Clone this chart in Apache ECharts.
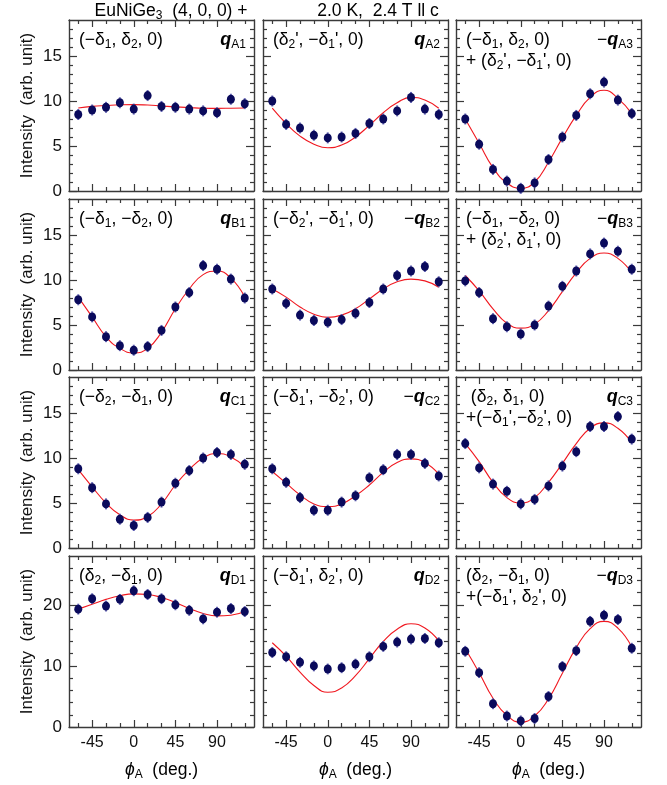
<!DOCTYPE html>
<html><head><meta charset="utf-8">
<script src="https://cdn.jsdelivr.net/npm/echarts@6/dist/echarts.min.js"></script>
<style>html,body{margin:0;padding:0;background:#fff}#c{width:667px;height:785px}</style>
</head><body><div id="c"></div>
<script>
// ---- data ----
const phi = [-60,-45,-30,-15,0,15,30,45,60,75,90,105,120];

const A1 = [8.5,9.0,9.3,9.8,9.1,10.6,9.4,9.3,9.1,8.9,8.7,10.2,9.7];
const A2 = [10.0,7.4,7.0,6.2,5.9,6.0,6.4,7.5,8.0,8.9,10.4,9.1,8.5];
const A3 = [8.0,5.2,2.4,1.1,0.3,0.9,3.5,6.0,8.4,10.8,12.1,10.1,8.6];
const B1 = [7.8,5.9,3.7,2.7,2.2,2.6,4.4,7.0,8.6,11.6,11.2,10.1,8.0];
const B2 = [9.0,7.4,6.1,5.5,5.3,5.6,6.3,7.5,9.0,10.5,11.0,11.5,9.8];
const B3 = [9.9,8.6,5.7,4.8,4.0,5.0,7.1,9.3,11.0,12.9,14.1,13.2,11.2];
const C1 = [8.8,6.7,4.9,3.2,2.5,3.4,5.1,7.2,8.6,10.0,10.6,10.4,9.3];
const C2 = [8.8,7.3,5.6,4.2,4.2,5.1,5.8,7.8,8.7,10.4,10.4,9.4,8.0];
const C3 = [11.6,8.9,7.1,6.3,4.9,5.4,6.9,9.1,10.7,13.5,13.5,14.6,12.1];
const D1 = [19.3,21.0,19.8,20.9,22.3,21.7,21.0,20.0,19.1,17.7,18.8,19.4,18.9];
const D2 = [12.2,11.5,10.6,10.0,9.5,9.7,10.3,11.5,13.2,13.9,14.4,14.5,13.8];
const D3 = [12.4,8.9,3.8,1.8,1.0,1.4,5.0,9.9,12.5,17.3,18.3,17.6,12.9];

const fitA1 = [9.22,9.4,9.5,9.58,9.6,9.55,9.45,9.35,9.27,9.2,9.18,9.2,9.23];
const fitA2 = [9.2,7.5,6.1,5.2,4.8,5.1,6.0,7.3,8.7,9.8,10.4,10.1,9.2];
const fitA3 = [8.0,5.3,2.6,0.9,0.3,1.0,3.2,5.9,8.4,10.4,11.2,10.3,8.6];
const fitB1 = [8.1,5.9,3.7,2.4,1.9,2.4,4.2,6.8,9.0,10.6,11.0,10.2,8.1];
const fitB2 = [9.0,8.1,7.0,6.2,5.85,6.1,6.8,7.9,9.0,9.8,10.1,9.9,9.2];
const fitB3 = [10.5,8.8,6.8,5.2,4.65,5.1,6.6,8.7,10.8,12.4,13.0,12.4,10.8];
const fitC1 = [8.7,6.8,5.0,3.7,3.1,3.5,4.9,7.0,8.7,10.0,10.5,10.1,9.0];
const fitC2 = [8.5,7.2,5.9,4.9,4.6,4.9,5.8,7.0,8.4,9.5,9.9,9.5,8.2];
const fitC3 = [11.6,9.6,7.3,5.6,5.0,5.6,7.3,9.4,11.6,13.3,13.9,13.3,11.7];
const fitD1 = [19.3,20.1,20.9,21.5,21.8,21.7,21.2,20.4,19.4,18.6,18.2,18.3,18.9];
const fitD2 = [13.8,11.6,9.0,6.8,5.7,6.4,8.4,11.2,14.0,16.0,16.9,16.2,14.1];
const fitD3 = [12.8,8.9,4.7,1.9,0.8,1.8,4.6,8.8,13.0,16.1,17.3,16.2,13.1];

const errRow = [0.55,0.55,0.55,0.8];

const xMajorTicks = [-45,0,45,90];
const xMinorTicks = [-60,-30,-15,15,30,60,75,105,120];
const xTickLabels = [-45,0,45,90];
const yMajorTicksA = [0,5,10,15];
const yMinorTicksA = [1,2,3,4,6,7,8,9,11,12,13,14,16,17,18];
const yMajorTicksD = [0,10,20];
const yMinorTicksD = [2,4,6,8,12,14,16,18,22,24,26];
const yMaxRow = [19,19,19,28];

const leftLabels = [
  ['(−δ_1, δ_2, 0)'], ["(δ_2', −δ_1', 0)"], ['(−δ_1, δ_2, 0)', "+ (δ_2', −δ_1', 0)"],
  ['(−δ_1, −δ_2, 0)'], ["(−δ_2', −δ_1', 0)"], ['(−δ_1, −δ_2, 0)', "+ (δ_2', δ_1', 0)"],
  ['(−δ_2, −δ_1, 0)'], ["(−δ_1', −δ_2', 0)"], [' (δ_2, δ_1, 0)', "+(−δ_1',−δ_2', 0)"],
  ['(δ_2, −δ_1, 0)'], ["(−δ_1', δ_2', 0)"], ['(δ_2, −δ_1, 0)', "+(−δ_1', δ_2', 0)"]
];
const qSigns = ['', '', '−', '', '−', '−', '', '−', '', '', '', '−'];
const qSubs = ['A1','A2','A3','B1','B2','B3','C1','C2','C3','D1','D2','D3'];
const titleLeft = 'EuNiGe_3  (4, 0, 0) +';
const titleRight = '2.0 K,  2.4 T ll c';
const yTitle = 'Intensity  (arb. unit)';
const xTitleUnit = '  (deg.)';

const pts = [A1,A2,A3,B1,B2,B3,C1,C2,C3,D1,D2,D3];
const fits = [fitA1,fitA2,fitA3,fitB1,fitB2,fitB3,fitC1,fitC2,fitC3,fitD1,fitD2,fitD3];

// ---- layout ----
const FONT = '"Liberation Sans", Arial, Helvetica, sans-serif';
const colLeft = [69, 263, 456], rowTop = [20, 199, 377, 556], W = 185, H = 171;
const AX = '#3a3a3a';

const RICH = {
  n: {fontSize: 17.5, fontFamily: FONT, lineHeight: 22, color: '#111'},
  s: {fontSize: 12, fontFamily: FONT, lineHeight: 10, verticalAlign: 'bottom', color: '#111'},
  q: {fontSize: 18, fontFamily: FONT, fontWeight: 'bold', fontStyle: 'italic', lineHeight: 22, color: '#111'},
  i: {fontSize: 17.5, fontFamily: FONT, fontStyle: 'italic', lineHeight: 22, color: '#111'}
};
function richStr(str, base) {
  base = base || 'n';
  let out = '', last = 0, m;
  const re = /_\{([^}]*)\}|_(.)/g;
  while ((m = re.exec(str))) {
    if (m.index > last) out += '{' + base + '|' + str.slice(last, m.index) + '}';
    out += '{s|' + (m[1] || m[2]) + '}';
    last = re.lastIndex;
  }
  if (last < str.length) out += '{' + base + '|' + str.slice(last) + '}';
  return out;
}

const grids = [], xAxes = [], yAxes = [], series = [], graphics = [];

function xAxis(gi, pos, ticks, len, labels, line) {
  return {
    type: 'value', gridIndex: gi, position: pos, min: -70, max: 130,
    axisLine: {show: line, onZero: false, lineStyle: {color: AX, width: 1.4}},
    axisTick: {show: true, inside: true, length: len, customValues: ticks, lineStyle: {color: AX, width: 1.2}},
    axisLabel: {show: labels, customValues: xTickLabels, margin: 8, fontSize: 16, fontFamily: FONT, color: '#111'},
    splitLine: {show: false}
  };
}
function yAxis(gi, pos, max, ticks, labelVals, len, labels, line) {
  return {
    type: 'value', gridIndex: gi, position: pos, min: 0, max: max,
    axisLine: {show: line, onZero: false, lineStyle: {color: AX, width: 1.4}},
    axisTick: {show: true, inside: true, length: len, customValues: ticks, lineStyle: {color: AX, width: 1.2}},
    axisLabel: {show: labels, customValues: labelVals, margin: 7, fontSize: 17, fontFamily: FONT, color: '#111'},
    splitLine: {show: false}
  };
}

for (let gi = 0; gi < 12; gi++) {
  const r = Math.floor(gi / 3), c = gi % 3;
  grids.push({left: colLeft[c], top: rowTop[r], width: W, height: H});
  const lastRow = r === 3;
  xAxes.push(xAxis(gi, 'bottom', xMajorTicks, 7, lastRow, true));
  xAxes.push(xAxis(gi, 'bottom', xMinorTicks, 4, false, false));
  xAxes.push(xAxis(gi, 'top', xMajorTicks, 7, false, true));
  xAxes.push(xAxis(gi, 'top', xMinorTicks, 4, false, false));
  const maj = lastRow ? yMajorTicksD : yMajorTicksA;
  const min = lastRow ? yMinorTicksD : yMinorTicksA;
  const ymax = yMaxRow[r];
  yAxes.push(yAxis(gi, 'left', ymax, maj, maj, 8, c === 0, true));
  yAxes.push(yAxis(gi, 'left', ymax, min, maj, 4, false, false));
  yAxes.push(yAxis(gi, 'right', ymax, maj, maj, 8, false, true));
  yAxes.push(yAxis(gi, 'right', ymax, min, maj, 4, false, false));

  const xi = gi * 4, yi = gi * 4;
  const e = errRow[r];
  series.push({
    type: 'line', xAxisIndex: xi, yAxisIndex: yi, smooth: 0.5, showSymbol: false, silent: true,
    data: phi.map((p, k) => [p, fits[gi][k]]),
    lineStyle: {color: '#f01820', width: 1.1}, z: 2
  });
  series.push({
    type: 'custom', xAxisIndex: xi, yAxisIndex: yi, silent: true, z: 3,
    data: phi.map((p, k) => [p, pts[gi][k], e]),
    renderItem: function (params, api) {
      const x = api.value(0), y = api.value(1), ev = api.value(2);
      const lo = api.coord([x, y - ev]), hi = api.coord([x, y + ev]);
      const st = {stroke: '#5858b0', lineWidth: 1};
      return {type: 'group', children: [
        {type: 'line', shape: {x1: lo[0], y1: lo[1], x2: hi[0], y2: hi[1]}, style: st},
        {type: 'line', shape: {x1: lo[0] - 1, y1: lo[1], x2: lo[0] + 1, y2: lo[1]}, style: st},
        {type: 'line', shape: {x1: hi[0] - 1, y1: hi[1], x2: hi[0] + 1, y2: hi[1]}, style: st}
      ]};
    }
  });
  series.push({
    type: 'scatter', xAxisIndex: xi, yAxisIndex: yi, symbol: 'circle', symbolSize: [8, 9], silent: true, z: 4,
    data: phi.map((p, k) => [p, pts[gi][k]]),
    itemStyle: {color: '#0a0a5c', opacity: 1}
  });

  // panel labels
  const L = leftLabels[gi];
  L.forEach((t, li) => {
    graphics.push({type: 'text', x: colLeft[c] + 10, y: rowTop[r] + 20 + li * 21, silent: true,
      style: {text: richStr(t), rich: RICH, align: 'left', verticalAlign: 'middle'}});
  });
  const qText = (qSigns[gi] ? '{n|' + qSigns[gi] + '}' : '') + '{q|q}{s|' + qSubs[gi] + '}';
  graphics.push({type: 'text', x: colLeft[c] + W - 8, y: rowTop[r] + 20, silent: true,
    style: {text: qText, rich: RICH, align: 'right', verticalAlign: 'middle'}});
}

// titles
graphics.push({type: 'text', x: 171, y: 11, silent: true,
  style: {text: richStr(titleLeft), rich: RICH, align: 'center', verticalAlign: 'middle'}});
graphics.push({type: 'text', x: 378, y: 11, silent: true,
  style: {text: richStr(titleRight), rich: RICH, align: 'center', verticalAlign: 'middle'}});
for (let r = 0; r < 4; r++) {
  graphics.push({type: 'text', x: 27, y: rowTop[r] + H / 2, rotation: Math.PI / 2, silent: true,
    style: {text: yTitle, font: '17px ' + FONT, fill: '#111', align: 'center', verticalAlign: 'middle'}});
}
for (let c = 0; c < 3; c++) {
  graphics.push({type: 'text', x: colLeft[c] + W / 2, y: 770, silent: true,
    style: {text: '{i|ϕ}{s|A}{n|' + xTitleUnit + '}', rich: RICH, align: 'center', verticalAlign: 'middle'}});
}

const chart = echarts.init(document.getElementById('c'), null, {renderer: 'canvas'});
chart.setOption({
  animation: false,
  backgroundColor: '#fff',
  grid: grids, xAxis: xAxes, yAxis: yAxes, series: series, graphic: graphics
});
</script>
</body></html>
